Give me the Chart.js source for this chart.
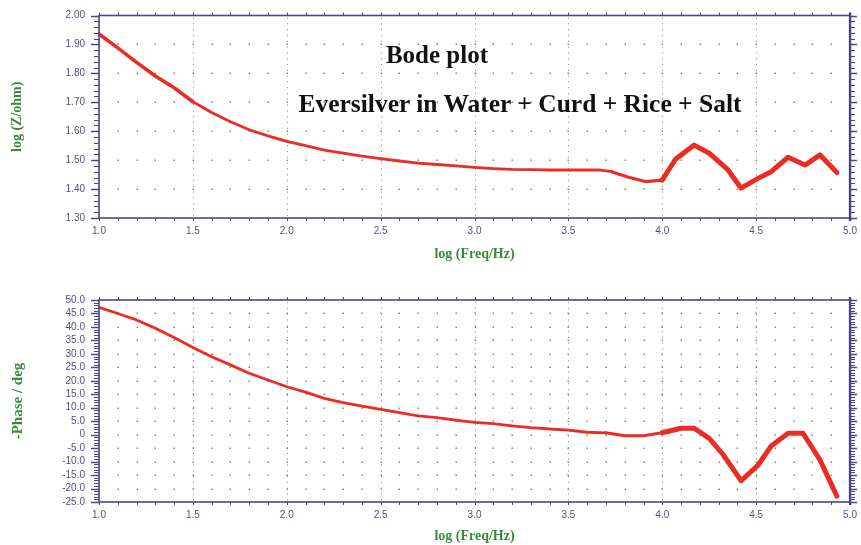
<!DOCTYPE html>
<html>
<head>
<meta charset="utf-8">
<script src="https://cdn.jsdelivr.net/npm/chart.js@4.4.1/dist/chart.umd.min.js"></script>
<style>
  html, body { margin: 0; padding: 0; background: #ffffff; }
  #wrap { position: relative; width: 861px; height: 545px; overflow: hidden; background: #fff; }
  .box { position: absolute; left: 0; width: 861px; }
  .ttl { position: absolute; font-family: "Liberation Serif", "Times New Roman", serif; font-weight: bold;
         font-size: 25px; line-height: 25px; color: #111; text-align: center; white-space: nowrap; }
</style>
</head>
<body>
<div id="wrap">
  <div class="box" style="top:0;height:270px;"><canvas id="magChart" width="861" height="270"></canvas></div>
  <div class="box" style="top:270px;height:275px;"><canvas id="phaseChart" width="861" height="275"></canvas></div>
  <div class="ttl" style="left:337px;width:200px;top:42px;">Bode plot</div>
  <div class="ttl" style="left:270px;width:500px;top:91px;font-size:25.5px;">Eversilver in Water + Curd + Rice + Salt</div>
</div>
<script>
// ---------- data ----------
const magFreqLog = [1.0,1.1,1.2,1.3,1.4,1.5,1.6,1.7,1.8,1.9,2.0,2.1,2.2,2.3,2.4,2.5,2.6,2.7,2.8,2.9,3.0,3.1,3.2,3.3,3.4,3.5,3.6,3.66,3.73,3.82,3.91,4.0,4.07,4.17,4.25,4.35,4.42,4.51,4.58,4.67,4.76,4.84,4.93];
const magLogZ    = [1.936,1.888,1.838,1.791,1.750,1.702,1.665,1.633,1.605,1.584,1.565,1.550,1.535,1.524,1.514,1.505,1.497,1.490,1.485,1.480,1.475,1.471,1.468,1.467,1.466,1.466,1.466,1.466,1.460,1.441,1.426,1.431,1.503,1.552,1.524,1.466,1.403,1.437,1.460,1.510,1.483,1.518,1.457];

const phaseFreqLog = [1.0,1.1,1.2,1.3,1.4,1.5,1.6,1.7,1.8,1.9,2.0,2.1,2.2,2.3,2.4,2.5,2.6,2.7,2.8,2.9,3.0,3.1,3.2,3.3,3.4,3.5,3.6,3.7,3.8,3.9,4.0,4.1,4.17,4.25,4.32,4.42,4.51,4.58,4.67,4.75,4.84,4.93];
const phaseDeg     = [47.3,45.0,42.6,39.5,36.1,32.4,28.9,25.9,22.8,20.3,17.8,15.8,13.5,11.9,10.6,9.4,8.2,7.0,6.3,5.4,4.6,4.1,3.3,2.6,2.1,1.7,0.9,0.7,-0.4,-0.4,0.7,2.4,2.4,-1.4,-7.0,-17.1,-11.3,-4.2,0.5,0.5,-9.4,-22.8];

const xTickValues = [1.0,1.5,2.0,2.5,3.0,3.5,4.0,4.5,5.0];
const magTickValues = [1.30,1.40,1.50,1.60,1.70,1.80,1.90,2.00];
const phaseTickValues = [-25,-20,-15,-10,-5,0,5,10,15,20,25,30,35,40,45,50];

// ---------- styling ----------
const AXIS = '#46468c';
const LABEL = '#4f4f8a';
const GREEN = '#3b8a3b';
const RED = '#ea2c24';
const GRID = '#79a86a';

const decor = {
  id: 'decor',
  beforeDatasetsDraw(chart, args, o) {
    const {ctx, chartArea: a, scales: {x, y}} = chart;
    ctx.save();
    ctx.strokeStyle = GRID; ctx.lineWidth = 1; ctx.setLineDash([1.2, 4.6]);
    for (let i = 1; i < o.xMajN; i++) {
      const v = o.xMin + i * o.xMajor;
      const px = Math.round(x.getPixelForValue(v)) + 0.5;
      ctx.beginPath(); ctx.moveTo(px, a.top + 2); ctx.lineTo(px, a.bottom); ctx.stroke();
    }
    ctx.setLineDash([]);
    ctx.fillStyle = '#6c9c5c';
    const nxm = o.xMajN * o.xMinPer;
    for (let i = 1; i < nxm; i++) {
      if (i % o.xMinPer === 0) continue;
      const px = Math.round(x.getPixelForValue(o.xMin + i * o.xMajor / o.xMinPer));
      for (let j = 1; j < o.yMajN; j++) {
        const py = Math.round(y.getPixelForValue(o.yMin + j * o.yMajor));
        ctx.fillRect(px - 0.5, py - 0.5, 1.5, 1.5);
      }
    }
    for (let i = 1; i < o.xMajN; i++) {
      const px = Math.round(x.getPixelForValue(o.xMin + i * o.xMajor));
      for (let j = 1; j < o.yMajN; j++) {
        const py = Math.round(y.getPixelForValue(o.yMin + j * o.yMajor));
        ctx.fillRect(px - 0.5, py - 0.5, 1.5, 1.5);
      }
    }
    ctx.restore();
  },
  afterDraw(chart, args, o) {
    const {ctx, chartArea: a, scales: {x, y}} = chart;
    ctx.save();
    ctx.strokeStyle = AXIS;
    ctx.lineWidth = 1;
    const nym = o.yMajN * o.yMinPer;
    for (let j = 0; j <= nym; j++) {
      const py = Math.round(y.getPixelForValue(o.yMin + j * o.yMajor / o.yMinPer)) + 0.5;
      const major = j % o.yMinPer === 0;
      ctx.lineWidth = major ? 1.5 : 1;
      ctx.beginPath(); ctx.moveTo(a.left - (major ? 8 : 5), py); ctx.lineTo(a.left, py); ctx.stroke();
      ctx.beginPath(); ctx.moveTo(a.right, py); ctx.lineTo(a.right + (major ? 7 : 5), py); ctx.stroke();
    }
    ctx.lineWidth = 1;
    const nxm = o.xMajN * o.xMinPer;
    for (let i = 0; i <= nxm; i++) {
      const px = Math.round(x.getPixelForValue(o.xMin + i * o.xMajor / o.xMinPer)) + 0.5;
      ctx.beginPath(); ctx.moveTo(px, a.top - 3); ctx.lineTo(px, a.top); ctx.stroke();
      ctx.beginPath(); ctx.moveTo(px, a.bottom); ctx.lineTo(px, a.bottom + 3); ctx.stroke();
    }
    ctx.lineWidth = 1.6;
    ctx.strokeRect(a.left, a.top, a.right - a.left, a.bottom - a.top);
    ctx.lineWidth = 2.4;
    ctx.beginPath(); ctx.moveTo(a.right, a.top - 3); ctx.lineTo(a.right, a.bottom + 3); ctx.stroke();
    ctx.restore();
  }
};

function xScale(height) {
  return {
    type: 'linear', min: 1, max: 5,
    afterBuildTicks: s => { s.ticks = xTickValues.map(v => ({value: v})); },
    ticks: { autoSkip: false, maxRotation: 0, padding: 4, color: LABEL,
             font: {family: 'Liberation Sans', size: 10},
             callback: v => Number(v).toFixed(1) },
    grid: { display: true, drawOnChartArea: false, drawTicks: true, tickLength: 3, color: 'rgba(0,0,0,0)' },
    border: { display: false },
    title: { display: true, text: 'log (Freq/Hz)', color: GREEN, padding: 0,
             font: {family: 'Liberation Serif', size: 14, weight: 'bold'} },
    afterFit: s => { s.height = height; }
  };
}

function yScale(min, max, tickVals, fmt, titleText, titleSize) {
  return {
    type: 'linear', min: min, max: max,
    afterBuildTicks: s => { s.ticks = tickVals.map(v => ({value: v})); },
    ticks: { autoSkip: false, padding: 6, color: LABEL,
             font: {family: 'Liberation Sans', size: 10}, callback: fmt },
    grid: { display: true, drawOnChartArea: false, drawTicks: true, tickLength: 8, color: 'rgba(0,0,0,0)' },
    border: { display: false },
    title: { display: true, text: titleText, color: GREEN, padding: 0,
             font: {family: 'Liberation Serif', size: titleSize, weight: 'bold'} },
    afterFit: s => { s.width = 90; }
  };
}

function widthFor(xv, thinStart) {
  if (xv >= 4.0) return 5;
  if (xv >= 3.7) return 3.2;
  if (xv < thinStart) return 3.6;
  return 2.8;
}

new Chart(document.getElementById('magChart'), {
  type: 'line',
  data: { datasets: [{
    data: magFreqLog.map((f, i) => ({x: f, y: magLogZ[i]})),
    borderColor: RED, borderWidth: 3, pointRadius: 0, tension: 0,
    borderJoinStyle: 'round', borderCapStyle: 'round',
    segment: { borderWidth: c => widthFor(c.p0.parsed.x, 1.5) }
  }]},
  options: {
    responsive: false, animation: false, events: [],
    layout: { padding: {left: 9, right: 8, top: 15.5, bottom: 7} },
    plugins: { legend: {display: false}, tooltip: {enabled: false},
      decor: { xMin: 1, xMajor: 0.5, xMajN: 8, xMinPer: 5, yMin: 1.3, yMajor: 0.1, yMajN: 7, yMinPer: 5 } },
    scales: {
      x: xScale(45),
      y: yScale(1.3, 2.0, magTickValues, v => Number(v).toFixed(2), 'log (Z/ohm)', 14)
    }
  },
  plugins: [decor]
});

new Chart(document.getElementById('phaseChart'), {
  type: 'line',
  data: { datasets: [{
    data: phaseFreqLog.map((f, i) => ({x: f, y: phaseDeg[i]})),
    borderColor: RED, borderWidth: 3, pointRadius: 0, tension: 0,
    borderJoinStyle: 'round', borderCapStyle: 'round',
    segment: { borderWidth: c => widthFor(c.p0.parsed.x, 1.0) }
  }]},
  options: {
    responsive: false, animation: false, events: [],
    layout: { padding: {left: 9, right: 8, top: 30, bottom: 0} },
    plugins: { legend: {display: false}, tooltip: {enabled: false},
      decor: { xMin: 1, xMajor: 0.5, xMajN: 8, xMinPer: 5, yMin: -25, yMajor: 5, yMajN: 15, yMinPer: 5 } },
    scales: {
      x: xScale(43),
      y: yScale(-25, 50, phaseTickValues, v => (Number(v) === 0 ? '0' : Number(v).toFixed(1)), '-Phase / deg', 15)
    }
  },
  plugins: [decor]
});
</script>
</body>
</html>
